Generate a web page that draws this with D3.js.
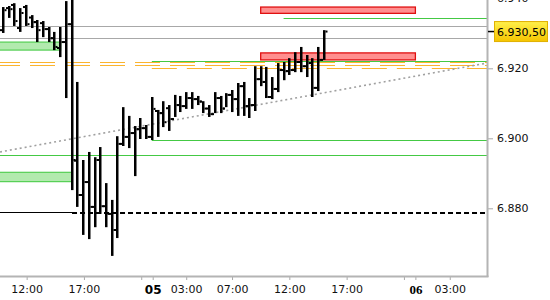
<!DOCTYPE html>
<html>
<head>
<meta charset="utf-8">
<script src="https://cdnjs.cloudflare.com/ajax/libs/d3/7.8.5/d3.min.js"></script>
<style>
  body { margin: 0; background: #fff; }
  svg { display: block; }
  .axis text { font-family: "DejaVu Sans", sans-serif; font-size: 11px; fill: #111; }
</style>
</head>
<body>
<div id="chart"></div>
<script>
// 30 minute bars, index 0 = first visible bar
let highs  = [6.9375, 6.9378, 6.9386, 6.9372, 6.9381, 6.9352, 6.9338, 6.9335, 6.9318, 6.9304,
              6.9318, 6.9392, 6.9480, 6.9161, 6.8938, 6.8961, 6.8946, 6.8975, 6.8872, 6.8824,
              6.9006, 6.9089, 6.9064, 6.9035, 6.9058, 6.9038, 6.9118, 6.9081, 6.9106, 6.9095,
              6.9124, 6.9121, 6.9132, 6.9132, 6.9121, 6.9106, 6.9095, 6.9132, 6.9121, 6.9129,
              6.9138, 6.9158, 6.9161, 6.9115, 6.9206, 6.9206, 6.9204, 6.9175, 6.9215, 6.9218,
              6.9229, 6.9246, 6.9261, 6.9238, 6.9229, 6.9261, 6.9309];
let lows   = [6.9301, 6.9344, 6.9321, 6.9304, 6.9321, 6.9315, 6.9275, 6.9289, 6.9275, 6.9252,
              6.9232, 6.9115, 6.8852, 6.8804, 6.8724, 6.8712, 6.8746, 6.8784, 6.8746, 6.8664,
              6.8715, 6.8978, 6.8972, 6.8892, 6.8998, 6.8998, 6.8995, 6.9004, 6.9032, 6.9021,
              6.9061, 6.9075, 6.9084, 6.9084, 6.9095, 6.9072, 6.9061, 6.9072, 6.9072, 6.9089,
              6.9075, 6.9064, 6.9064, 6.9058, 6.9078, 6.9149, 6.9115, 6.9112, 6.9132, 6.9166,
              6.9181, 6.9189, 6.9189, 6.9175, 6.9118, 6.9135, 6.9224];
let opens  = [6.9309, 6.9372, 6.9381, 6.9315, 6.9375, 6.9345, 6.9332, 6.9329, 6.9312, 6.9286,
              6.9258, 6.9275, 6.9326, 6.8936, 6.8838, 6.8875, 6.8804, 6.8938, 6.8806, 6.8784,
              6.8738, 6.8984, 6.9004, 6.9015, 6.9026, 6.9029, 6.9004, 6.9078, 6.9072, 6.9086,
              6.9055, 6.9095, 6.9092, 6.9115, 6.9112, 6.9105, 6.9085, 6.9069, 6.9115, 6.9085,
              6.9124, 6.9112, 6.9149, 6.9092, 6.9095, 6.9169, 6.9161, 6.9118, 6.9141, 6.9195,
              6.9192, 6.9195, 6.9218, 6.9206, 6.9215, 6.9144, 6.9224];
let closes = [6.9366, 6.9369, 6.9335, 6.9358, 6.9326, 6.9332, 6.9309, 6.9312, 6.9286, 6.9261,
              6.9275, 6.9326, 6.8938, 6.8838, 6.8875, 6.8804, 6.8938, 6.8806, 6.8784, 6.8738,
              6.8984, 6.9004, 6.9015, 6.9026, 6.9029, 6.9004, 6.9084, 6.9072, 6.9046, 6.9055,
              6.9095, 6.9092, 6.9115, 6.9112, 6.9105, 6.9085, 6.9069, 6.9115, 6.9085, 6.9124,
              6.9112, 6.9149, 6.9092, 6.9095, 6.9169, 6.9161, 6.9118, 6.9141, 6.9195, 6.9192,
              6.9195, 6.9218, 6.9206, 6.9215, 6.9144, 6.9224, 6.9305];

// time axis (bar index positions)
let timeTicks  = [4.15, 14.15, 24.15, 26.15, 32, 40, 50, 60, 70, 72, 78];
let timeLabels = ["12:00", "17:00", "", "05", "03:00", "07:00", "12:00", "17:00", "", "06", "03:00"];
let dayLabels  = ["05", "06"];

let priceTicks = [6.88, 6.90, 6.92, 6.94];
let lastPrice = 6.9305;

// drawn levels / zones
let grayLevels = [6.9321, 6.9287];
let redZoneTop = [6.9375, 6.9244];
let redZoneBottom = [6.9357, 6.9224];
let redZoneFrom = [45, 45];
let redZoneTo = [72, 72];
let greenZoneTop = [6.9275, 6.8903];
let greenZoneBottom = [6.9252, 6.8876];
let greenZoneTo = [10.1, 12.1];
let greenLevels = [6.9343, 6.9220, 6.8995, 6.8951];
let greenLevelFrom = [49, 26, 26, -0.5];
let orangeLevels = [6.9217, 6.9209, 6.9200];
let orangeFrom = [-0.5, -0.5, 26];
let supportLevel = 6.8789;
let supportSplit = 12.07;
let trendIdx = [-0.5, 84.5];
let trendVal = [6.8961, 6.9215];

let width = 550, height = 300;
let plotW = 487, plotH = 276;

let svg = d3.select("#chart").append("svg")
  .attr("width", width)
  .attr("height", height);

let xScale = d3.scaleLinear().domain([-0.5, 84.5]).range([0, plotW]);
let yScale = d3.scaleLinear().domain([6.88, 6.92]).range([208.3, 68.3]);

svg.append("clipPath").attr("id", "plotClip")
  .append("rect").attr("x", 0).attr("y", 0).attr("width", plotW).attr("height", plotH);

let plot = svg.append("g").attr("clip-path", "url(#plotClip)");

// gray horizontal lines
plot.selectAll(".grayLine").data(grayLevels).enter().append("line")
  .attr("x1", 0).attr("x2", plotW)
  .attr("y1", d => Math.round(yScale(d)) + 0.5).attr("y2", d => Math.round(yScale(d)) + 0.5)
  .attr("stroke", "#a8a8a8").attr("stroke-width", 1);

// green zones
plot.selectAll(".greenZone").data(greenZoneTop).enter().append("rect")
  .attr("x", -5)
  .attr("y", d => yScale(d))
  .attr("width", (d, i) => xScale(greenZoneTo[i]) + 5)
  .attr("height", (d, i) => yScale(greenZoneBottom[i]) - yScale(d))
  .attr("fill", "#b2eaae")
  .attr("stroke", "#3cc83c")
  .attr("stroke-width", 1);

// red zones
plot.selectAll(".redZone").data(redZoneTop).enter().append("rect")
  .attr("x", (d, i) => xScale(redZoneFrom[i]))
  .attr("y", d => yScale(d))
  .attr("width", (d, i) => xScale(redZoneTo[i]) - xScale(redZoneFrom[i]))
  .attr("height", (d, i) => yScale(redZoneBottom[i]) - yScale(d))
  .attr("fill", "#ff8f8f")
  .attr("stroke", "#e01010")
  .attr("stroke-width", 1.3);

// green levels
plot.selectAll(".greenLine").data(greenLevels).enter().append("line")
  .attr("x1", (d, i) => xScale(greenLevelFrom[i])).attr("x2", plotW)
  .attr("y1", d => Math.round(yScale(d)) + 0.5).attr("y2", d => Math.round(yScale(d)) + 0.5)
  .attr("stroke", "#44c944").attr("stroke-width", 1);

// orange dashed levels
plot.selectAll(".orangeLine").data(orangeLevels).enter().append("line")
  .attr("x1", (d, i) => xScale(orangeFrom[i])).attr("x2", plotW)
  .attr("y1", d => Math.round(yScale(d)) + 0.5).attr("y2", d => Math.round(yScale(d)) + 0.5)
  .attr("stroke", "#fbb42e").attr("stroke-width", 1.2)
  .attr("stroke-dasharray", "25,10")
  .attr("stroke-dashoffset", (d, i) => orangeFrom[i] < 0 ? 5 : 0);

// dotted trend line
plot.append("line")
  .attr("x1", xScale(trendIdx[0])).attr("y1", yScale(trendVal[0]))
  .attr("x2", xScale(trendIdx[1])).attr("y2", yScale(trendVal[1]))
  .attr("stroke", "#a0a0a0").attr("stroke-width", 1.6)
  .attr("stroke-dasharray", "2,3");

// support line: solid then dashed
let sy = Math.round(yScale(supportLevel)) + 0.5;
plot.append("line")
  .attr("x1", 0).attr("x2", xScale(supportSplit))
  .attr("y1", sy).attr("y2", sy)
  .attr("stroke", "#000").attr("stroke-width", 1);
plot.append("line")
  .attr("x1", xScale(supportSplit)).attr("x2", plotW)
  .attr("y1", sy + 0.5).attr("y2", sy + 0.5)
  .attr("stroke", "#000").attr("stroke-width", 2)
  .attr("stroke-dasharray", "5,3");

// OHLC bars
let bars = plot.selectAll(".bar").data(highs).enter().append("g");

bars.append("rect")
  .attr("x", (d, i) => Math.round(xScale(i)) - 1)
  .attr("y", d => yScale(d))
  .attr("width", 2.5)
  .attr("height", (d, i) => yScale(lows[i]) - yScale(d))
  .attr("fill", "#000");

bars.append("rect")
  .attr("x", (d, i) => Math.round(xScale(i)) - 3)
  .attr("y", (d, i) => yScale(opens[i]) - 1)
  .attr("width", 2).attr("height", 2)
  .attr("fill", "#000");

bars.append("rect")
  .attr("x", (d, i) => Math.round(xScale(i)) + 1.5)
  .attr("y", (d, i) => yScale(closes[i]) - 1)
  .attr("width", 2).attr("height", 2)
  .attr("fill", "#000");

// axes
let yAxis = d3.axisRight(yScale)
  .tickValues(priceTicks)
  .tickFormat(d3.format(".3f"))
  .tickSize(5)
  .tickSizeOuter(0)
  .tickPadding(4);

let yAxisG = svg.append("g").attr("class", "axis")
  .attr("transform", "translate(" + (plotW + 1) + ",0)")
  .call(yAxis);
yAxisG.select(".domain").remove();
yAxisG.selectAll(".tick line").attr("stroke", "#a8a8a8");

let xAxis = d3.axisBottom(xScale)
  .tickValues(timeTicks)
  .tickFormat((d, i) => timeLabels[i])
  .tickSize(4)
  .tickSizeOuter(0)
  .tickPadding(5);

let xAxisG = svg.append("g").attr("class", "axis")
  .attr("transform", "translate(0," + plotH + ")")
  .call(xAxis);
xAxisG.select(".domain").remove();
xAxisG.selectAll(".tick line").attr("stroke", "#a8a8a8");
xAxisG.selectAll(".tick text")
  .filter(d => dayLabels.includes(timeLabels[timeTicks.indexOf(d)]))
  .style("font-weight", "bold")
  .style("font-size", "12px")
  .style("fill", "#000");
xAxisG.selectAll(".tick text")
  .filter(d => timeLabels[timeTicks.indexOf(d)] == "06")
  .style("font-family", "'Liberation Serif', serif")
  .style("font-size", "13px");

// frame lines (right and bottom)
svg.append("line")
  .attr("x1", plotW + 0.5).attr("x2", plotW + 0.5)
  .attr("y1", 0).attr("y2", plotH + 1)
  .attr("stroke", "#b4b4b4").attr("stroke-width", 2);
svg.append("line")
  .attr("x1", 0).attr("x2", plotW + 1.5)
  .attr("y1", plotH + 0.5).attr("y2", plotH + 0.5)
  .attr("stroke", "#b4b4b4").attr("stroke-width", 2);

// current price marker
let py = yScale(lastPrice);
let grad = svg.append("defs").append("linearGradient")
  .attr("id", "priceGrad").attr("x1", 0).attr("y1", 0).attr("x2", 0).attr("y2", 1);
grad.append("stop").attr("offset", "0%").attr("stop-color", "#fff04a");
grad.append("stop").attr("offset", "100%").attr("stop-color", "#f5c400");

svg.append("line")
  .attr("x1", plotW + 1).attr("x2", plotW + 7)
  .attr("y1", py).attr("y2", py)
  .attr("stroke", "#000").attr("stroke-width", 1.5);

svg.append("rect")
  .attr("x", plotW + 7.5).attr("y", py - 10)
  .attr("width", 53).attr("height", 20)
  .attr("fill", "url(#priceGrad)")
  .attr("stroke", "#e0b000").attr("stroke-width", 1);

// price shown with 5 decimals, comma before the last two
svg.append("text")
  .attr("x", plotW + 10).attr("y", py + 4)
  .style("font-family", "'DejaVu Sans', sans-serif")
  .style("font-size", "11px")
  .style("fill", "#000")
  .text(d3.format(".5f")(lastPrice).replace(/(\d\d)$/, ",$1"));
</script>
</body>
</html>
